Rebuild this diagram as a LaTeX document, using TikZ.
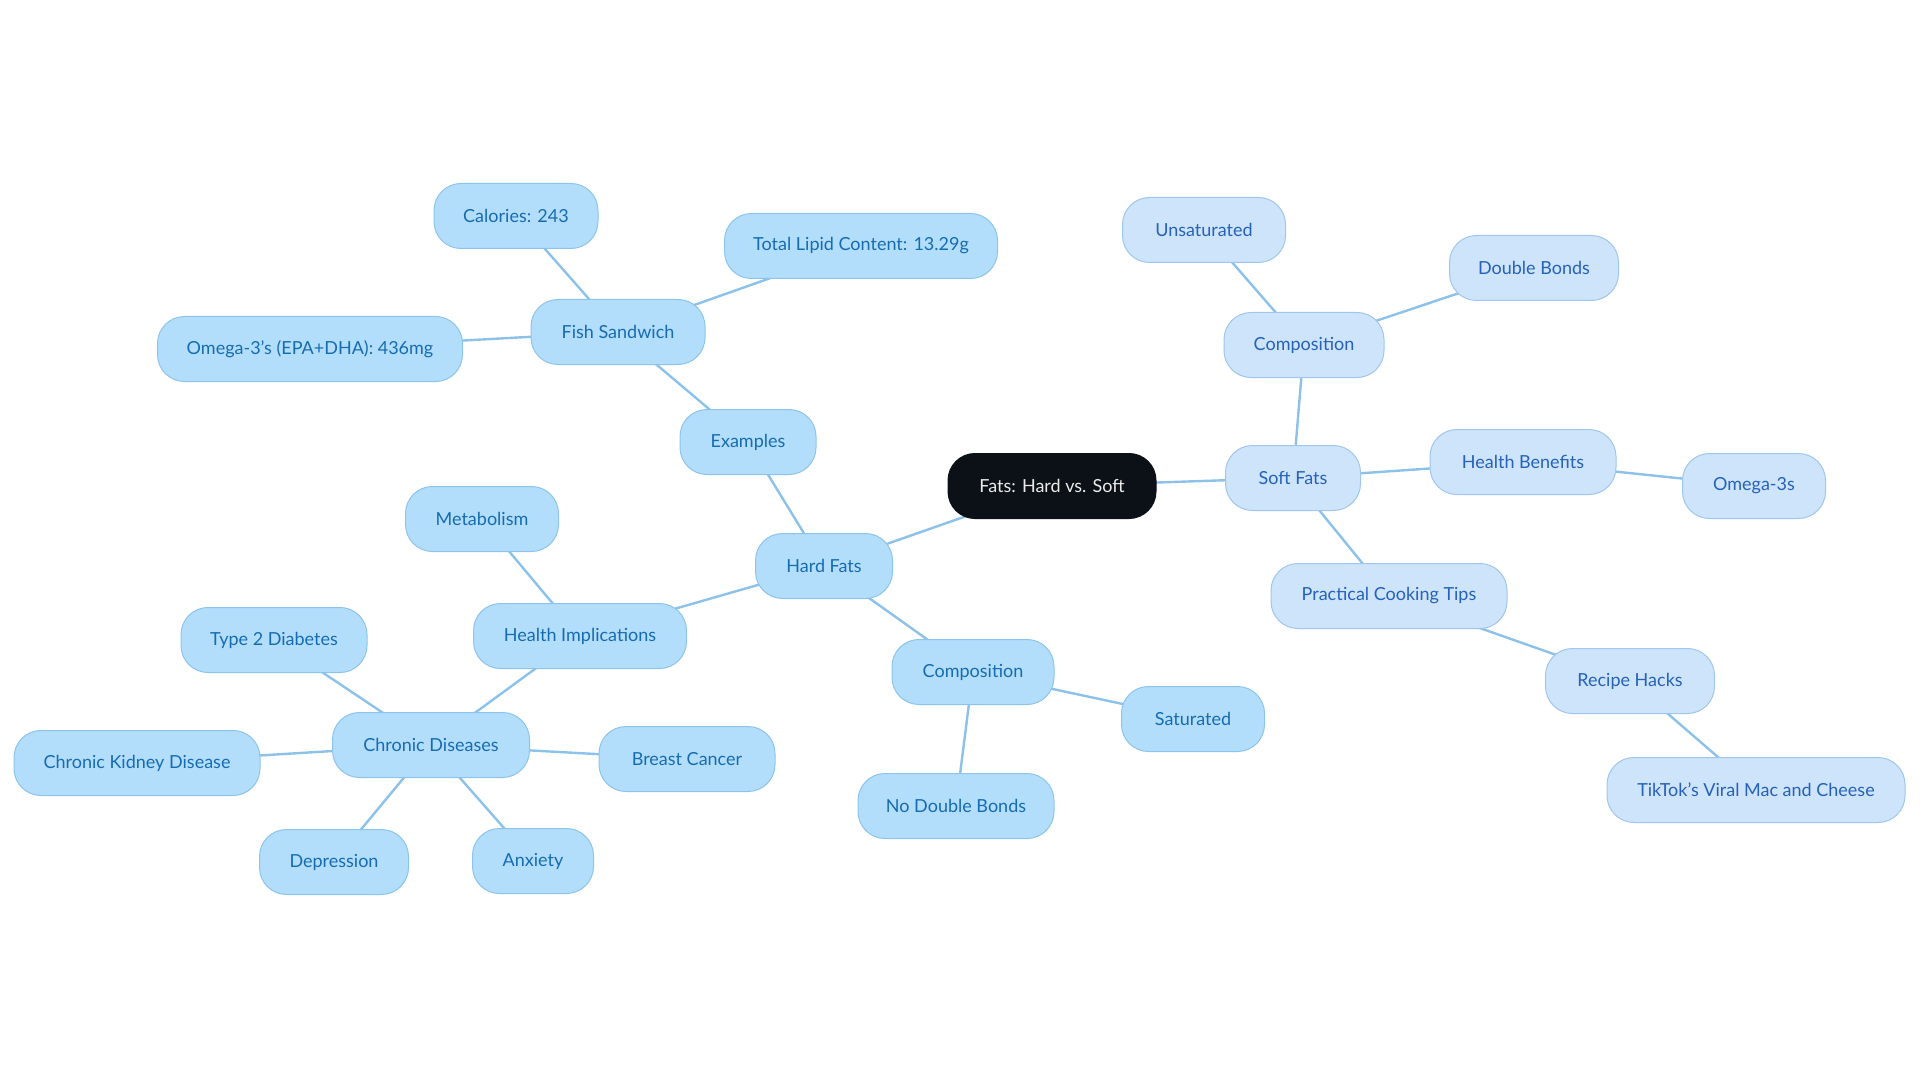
\documentclass[tikz,border=0pt]{standalone}
\usepackage{fontspec}
\setmainfont{Lato}
\usetikzlibrary{backgrounds}
\definecolor{hardfill}{RGB}{179,222,251}
\definecolor{harddraw}{RGB}{140,196,236}
\definecolor{hardtext}{RGB}{22,108,178}
\definecolor{softfill}{RGB}{205,228,251}
\definecolor{softdraw}{RGB}{160,198,238}
\definecolor{softtext}{RGB}{38,98,186}
\definecolor{edgecol}{RGB}{140,194,234}
\definecolor{rootfill}{RGB}{12,17,23}
\tikzset{
  base/.style={rounded corners=27pt, minimum height=65pt, inner xsep=0pt, inner ysep=0pt, line width=1pt, font=\fontsize{18}{20}\selectfont, anchor=center},
  hard/.style={base, fill=hardfill, draw=harddraw, text=hardtext},
  soft/.style={base, fill=softfill, draw=softdraw, text=softtext},
  rootnode/.style={base, fill=rootfill, draw=rootfill, text=white!92!black},
  link/.style={draw=edgecol, line width=2.4pt}
}
\begin{document}
\begin{tikzpicture}[x=1pt,y=-1pt]
\useasboundingbox (0,0) rectangle (1920,1083);
% root
\node[rootnode, minimum width=208pt] (root) at (1052,486) {Fats: Hard vs. Soft};
% soft branch
\node[soft, minimum width=135pt] (soft) at (1293,478) {Soft Fats};
\node[soft, minimum width=160pt] (scomp) at (1304,345) {Composition};
\node[soft, minimum width=163pt] (unsat) at (1204,230) {Unsaturated};
\node[soft, minimum width=169pt] (dbonds) at (1534,268) {Double Bonds};
\node[soft, minimum width=186pt] (hben) at (1523,462) {Health Benefits};
\node[soft, minimum width=143pt] (om3s) at (1754,486) {Omega-3s};
\node[soft, minimum width=236pt] (pct) at (1389,596) {Practical Cooking Tips};
\node[soft, minimum width=169pt] (rhacks) at (1630,681) {Recipe Hacks};
\node[soft, minimum width=298pt] (tiktok) at (1756,790) {TikTok's Viral Mac and Cheese};
% hard branch
\node[hard, minimum width=137pt] (hard) at (824,566) {Hard Fats};
\node[hard, minimum width=136pt] (examples) at (748,442) {Examples};
\node[hard, minimum width=174pt] (fish) at (618,332) {Fish Sandwich};
\node[hard, minimum width=164pt] (cal) at (516,216) {Calories: 243};
\node[hard, minimum width=273pt] (lipid) at (861,246) {Total Lipid Content: 13.29g};
\node[hard, minimum width=305pt] (omega) at (310,349) {Omega-3's (EPA+DHA): 436mg};
\node[hard, minimum width=213pt] (himp) at (580,636) {Health Implications};
\node[hard, minimum width=153pt] (metab) at (482,519) {Metabolism};
\node[hard, minimum width=197pt] (chronic) at (431,745) {Chronic Diseases};
\node[hard, minimum width=186pt] (t2d) at (274,640) {Type 2 Diabetes};
\node[hard, minimum width=246pt] (ckd) at (137,763) {Chronic Kidney Disease};
\node[hard, minimum width=176pt] (breast) at (687,759) {Breast Cancer};
\node[hard, minimum width=149pt] (depr) at (334,862) {Depression};
\node[hard, minimum width=121pt] (anx) at (533,861) {Anxiety};
\node[hard, minimum width=162pt] (hcomp) at (973,672) {Composition};
\node[hard, minimum width=143pt] (sat) at (1193,719) {Saturated};
\node[hard, minimum width=196pt] (nodb) at (956,806) {No Double Bonds};
% connectors
\begin{scope}[on background layer]
\draw[link] (root.center) -- (soft.center);
\draw[link] (root.center) -- (hard.center);
\draw[link] (soft.center) -- (scomp.center);
\draw[link] (scomp.center) -- (unsat.center);
\draw[link] (scomp.center) -- (dbonds.center);
\draw[link] (soft.center) -- (hben.center);
\draw[link] (hben.center) -- (om3s.center);
\draw[link] (soft.center) -- (pct.center);
\draw[link] (pct.center) -- (rhacks.center);
\draw[link] (rhacks.center) -- (tiktok.center);
\draw[link] (hard.center) -- (examples.center);
\draw[link] (examples.center) -- (fish.center);
\draw[link] (fish.center) -- (cal.center);
\draw[link] (fish.center) -- (lipid.center);
\draw[link] (fish.center) -- (omega.center);
\draw[link] (hard.center) -- (himp.center);
\draw[link] (himp.center) -- (metab.center);
\draw[link] (himp.center) -- (chronic.center);
\draw[link] (chronic.center) -- (t2d.center);
\draw[link] (chronic.center) -- (ckd.center);
\draw[link] (chronic.center) -- (breast.center);
\draw[link] (chronic.center) -- (depr.center);
\draw[link] (chronic.center) -- (anx.center);
\draw[link] (hard.center) -- (hcomp.center);
\draw[link] (hcomp.center) -- (sat.center);
\draw[link] (hcomp.center) -- (nodb.center);
\end{scope}
\end{tikzpicture}
\end{document}
